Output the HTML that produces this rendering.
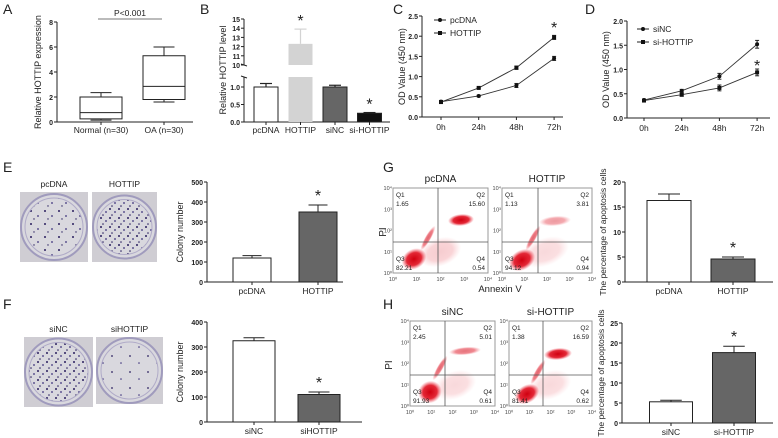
<!DOCTYPE html>
<html><head><meta charset="utf-8">
<style>
html,body{margin:0;padding:0;background:#fff;}
svg{display:block;font-family:"Liberation Sans",Arial,sans-serif;}
</style></head>
<body>
<svg id="fig" width="778" height="438" viewBox="0 0 778 438" xmlns="http://www.w3.org/2000/svg">
<defs>
  <pattern id="dotsA" width="14" height="13" patternUnits="userSpaceOnUse">
    <circle cx="3" cy="3" r="1" fill="#2a2060"/><circle cx="10" cy="8" r="0.9" fill="#3b2f7a"/><circle cx="6" cy="11" r="0.7" fill="#2a2060"/>
  </pattern>
  <pattern id="dotsB" width="9" height="9" patternUnits="userSpaceOnUse">
    <circle cx="2" cy="2" r="1" fill="#2a2060"/><circle cx="7" cy="5" r="0.9" fill="#3b2f7a"/><circle cx="4" cy="8" r="0.8" fill="#2a2060"/>
  </pattern>
  <pattern id="dotsC" width="18" height="16" patternUnits="userSpaceOnUse">
    <circle cx="4" cy="4" r="0.9" fill="#2a2060"/><circle cx="13" cy="11" r="0.8" fill="#3b2f7a"/>
  </pattern>
  <radialGradient id="blob"><stop offset="0" stop-color="#d00010"/><stop offset="0.6" stop-color="#e01020" stop-opacity="0.9"/><stop offset="1" stop-color="#f04050" stop-opacity="0"/></radialGradient>
</defs>
</svg>
<script>
// ---------- DATA ----------
const aCats = ["Normal (n=30)", "OA (n=30)"];
const aMin = [0.15, 1.6];
const aQ1 = [0.25, 1.8];
const aMed = [0.75, 2.85];
const aQ3 = [2.0, 5.3];
const aMax = [2.35, 6.0];
const aTicks = [0, 2, 4, 6, 8];
const bCats = ["pcDNA", "HOTTIP", "siNC", "si-HOTTIP"];
const bVals = [1.0, 12.3, 1.0, 0.25];
const bErrs = [0.1, 1.6, 0.05, 0.02];
const bLowTicks = [0.0, 0.5, 1.0];
const bHighTicks = [10, 11, 12, 13, 14, 15];
const tCats = ["0h", "24h", "48h", "72h"];
const cPcDNA = [0.38, 0.52, 0.78, 1.45];
const cPcDNAErr = [0.03, 0.02, 0.05, 0.05];
const cHOTTIP = [0.37, 0.72, 1.22, 1.97];
const cHOTTIPErr = [0.03, 0.02, 0.04, 0.05];
const cTicks = [0.0, 0.5, 1.0, 1.5, 2.0, 2.5];
const dSiNC = [0.37, 0.56, 0.86, 1.52];
const dSiNCErr = [0.02, 0.03, 0.06, 0.08];
const dSiH = [0.36, 0.48, 0.62, 0.94];
const dSiHErr = [0.02, 0.03, 0.06, 0.07];
const dTicks = [0.0, 0.5, 1.0, 1.5, 2.0];
const eCats = ["pcDNA", "HOTTIP"];
const eVals = [120, 350];
const eErrs = [12, 35];
const eTicks = [0, 100, 200, 300, 400, 500];
const fCats = ["siNC", "siHOTTIP"];
const fVals = [325, 110];
const fErrs = [12, 10];
const fTicks = [0, 100, 200, 300, 400];
const gCats = ["pcDNA", "HOTTIP"];
const gVals = [16.3, 4.6];
const gErrs = [1.3, 0.4];
const gTicks = [0, 5, 10, 15, 20];
const hCats = ["siNC", "si-HOTTIP"];
const hVals = [5.3, 17.6];
const hErrs = [0.4, 1.6];
const hTicks = [0, 5, 10, 15, 20, 25];

// ---------- HELPERS ----------
const NS = "http://www.w3.org/2000/svg";
const svg = document.getElementById("fig");
function mk(tag, attrs, parent) {
  const e = document.createElementNS(NS, tag);
  for (const k in attrs) e.setAttribute(k, attrs[k]);
  (parent || svg).appendChild(e);
  return e;
}
function txt(x, y, s, size, anchor, parent, extra) {
  const t = mk("text", Object.assign({x: x, y: y, "font-size": size, "text-anchor": anchor || "middle", fill: "#222"}, extra || {}), parent);
  t.textContent = s;
  return t;
}
function line(x1, y1, x2, y2, parent, w, c) {
  return mk("line", {x1: x1, y1: y1, x2: x2, y2: y2, stroke: c || "#222", "stroke-width": w || 1}, parent);
}
function group(parent) { return mk("g", {}, parent); }

function yAxis(g, ax, yOf, ticks, top, bottom, fmt) {
  const a = line(ax, top, ax, bottom, g);
  
  
  ticks.forEach(v => {
    const y = yOf(v);
    line(ax - 3, y, ax, y, g);
    const t = txt(ax - 4, y + 3, fmt ? fmt(v) : String(v), 7, "end", g, {"font-weight": "bold"});
    
    
  });
}
function yTitle(g, x, y, s, size) {
  const t = txt(x, y, s, size || 9, "middle", g, {transform: "rotate(-90 " + x + " " + y + ")"});
  
  
}
function panelLetter(x, y, s) {
  const t = txt(x, y, s, 14, "start", svg);
  
  
}
function star(g, x, y) {
  const t = txt(x, y, "*", 16, "middle", g);
  
  
}

function barChart(name, o) {
  const g = group();
  
  
  const yOf = v => o.y0 - v * o.ppu;
  yAxis(g, o.ax, yOf, o.ticks, yOf(o.ticks[o.ticks.length - 1]), o.y0);
  const xa = line(o.ax, o.y0, o.xEnd, o.y0, g);
  
  
  o.cats.forEach((c, i) => {
    const cx = o.first + i * o.spacing;
    line(cx, o.y0, cx, o.y0 + 3, g);
    const v = o.vals[i], e = o.errs[i];
    line(cx, yOf(v), cx, yOf(v + e), g);
    line(cx - o.bw / 4, yOf(v + e), cx + o.bw / 4, yOf(v + e), g);
    const r = mk("rect", {x: cx - o.bw / 2, y: yOf(v), width: o.bw, height: v * o.ppu, fill: o.colors[i], stroke: "#222", "stroke-width": 1}, g);
    
    
    const l = txt(cx, o.y0 + 12, c, 8.5, "middle", g);
    
    
    if (o.stars[i]) star(g, cx, yOf(v + e) - 4);
  });
  yTitle(g, o.titleX, (o.y0 + yOf(o.ticks[o.ticks.length - 1])) / 2, o.title, o.titleSize || 9);
}

// ---------- PANEL A ----------
panelLetter(3, 14, "A");
(function () {
  const g = group();
  
  
  const ax = 57, y0 = 122, ppu = 12.5;
  const yOf = v => y0 - v * ppu;
  yAxis(g, ax, yOf, aTicks, yOf(8), y0);
  line(ax, y0, 193, y0, g);
  const centers = [101, 164], bw = 42;
  aCats.forEach((c, i) => {
    const cx = centers[i];
    line(cx, y0, cx, y0 + 3, g);
    line(cx, yOf(aMax[i]), cx, yOf(aQ3[i]), g);
    line(cx, yOf(aMin[i]), cx, yOf(aQ1[i]), g);
    line(cx - bw / 4, yOf(aMax[i]), cx + bw / 4, yOf(aMax[i]), g);
    line(cx - bw / 4, yOf(aMin[i]), cx + bw / 4, yOf(aMin[i]), g);
    const b = mk("rect", {x: cx - bw / 2, y: yOf(aQ3[i]), width: bw, height: (aQ3[i] - aQ1[i]) * ppu, fill: "none", stroke: "#222"}, g);
    
    
    line(cx - bw / 2, yOf(aMed[i]), cx + bw / 2, yOf(aMed[i]), g);
    const l = txt(cx, 133, c, 8.5, "middle", g);
    
    
  });
  const pl = line(98, 19, 162, 19, g, 1, "#777");
  
  
  const pt = txt(130, 16, "P<0.001", 8.5, "middle", g);
  
  
  yTitle(g, 41, 72, "Relative HOTTIP expression", 9);
})();

// ---------- PANEL B ----------
panelLetter(200, 14, "B");
(function () {
  const g = group();
  
  
  const ax = 244, y0 = 122, ppuL = 35, lowTop = 77;
  const hiBase = 65, ppuH = 9.2;
  const yOf = v => v <= 1.3 ? y0 - v * ppuL : hiBase - (v - 10) * ppuH;
  line(ax, lowTop, ax, y0, g);
  line(ax, yOf(15), ax, hiBase, g);
  line(ax - 3, lowTop - 1, ax + 3, lowTop + 1, g);
  line(ax - 3, hiBase - 1, ax + 3, hiBase + 1, g);
  bLowTicks.forEach(v => { line(ax - 3, yOf(v), ax, yOf(v), g); txt(ax - 4, yOf(v) + 3, v.toFixed(1), 7, "end", g, {"font-weight": "bold"}); });
  bHighTicks.forEach(v => { line(ax - 3, yOf(v), ax, yOf(v), g); txt(ax - 4, yOf(v) + 3, String(v), 7, "end", g, {"font-weight": "bold"}); });
  line(ax, y0, 390, y0, g);
  const colors = ["#ffffff", "#d3d3d3", "#666666", "#111111"];
  const stars = [false, true, false, true];
  bCats.forEach((c, i) => {
    const cx = 266 + i * 34.5, bw = 24;
    line(cx, y0, cx, y0 + 3, g);
    const v = bVals[i], e = bErrs[i];
    let r;
    if (v > 1.3) {
      mk("rect", {x: cx - bw / 2, y: lowTop, width: bw, height: y0 - lowTop, fill: colors[i]}, g);
      r = mk("rect", {x: cx - bw / 2, y: yOf(v), width: bw, height: hiBase - yOf(v), fill: colors[i]}, g);
    } else {
      r = mk("rect", {x: cx - bw / 2, y: yOf(v), width: bw, height: v * ppuL, fill: colors[i], stroke: "#222"}, g);
    }
    
    
    const ec = i === 1 ? "#d3d3d3" : "#222";
    line(cx, yOf(v), cx, yOf(v + e), g, 1.2, ec);
    line(cx - 6, yOf(v + e), cx + 6, yOf(v + e), g, 1.2, ec);
    const l = txt(cx, 133, c, 8.5, "middle", g);
    
    
    if (stars[i]) star(g, cx, yOf(v + e) - 3);
  });
  yTitle(g, 226, 70, "Relative HOTTIP level", 9);
})();

// ---------- LINE CHARTS ----------
function lineChart(name, o) {
  const g = group();
  
  
  const yOf = v => o.y0 - v * o.ppu;
  const xOf = i => o.x0 + i * o.dx;
  yAxis(g, o.ax, yOf, o.ticks, yOf(o.ticks[o.ticks.length - 1]), o.y0, v => v.toFixed(1));
  line(o.ax, o.y0, o.xEnd, o.y0, g);
  tCats.forEach((c, i) => {
    line(xOf(i), o.y0, xOf(i), o.y0 + 3, g);
    const l = txt(xOf(i), o.y0 + 13, c, 8.5, "middle", g);
    
    
  });
  o.series.forEach((s, si) => {
    const p = mk("polyline", {points: s.vals.map((v, i) => xOf(i) + "," + yOf(v)).join(" "), fill: "none", stroke: "#333", "stroke-width": 0.9}, g);
    
    
    s.vals.forEach((v, i) => {
      const x = xOf(i), e = s.errs[i];
      line(x, yOf(v - e), x, yOf(v + e), g);
      line(x - 2, yOf(v + e), x + 2, yOf(v + e), g);
      line(x - 2, yOf(v - e), x + 2, yOf(v - e), g);
      let m;
      if (s.marker === "circle") m = mk("circle", {cx: x, cy: yOf(v), r: 2, fill: "#111"}, g);
      else m = mk("rect", {x: x - 2, y: yOf(v) - 2, width: 4, height: 4, fill: "#111"}, g);
      
      
    });
    const ly = o.legY + si * 13;
    line(o.legX, ly, o.legX + 12, ly, g);
    if (s.marker === "circle") mk("circle", {cx: o.legX + 6, cy: ly, r: 2, fill: "#111"}, g);
    else mk("rect", {x: o.legX + 4, y: ly - 2, width: 4, height: 4, fill: "#111"}, g);
    const lt = txt(o.legX + 16, ly + 3, s.name, 8.5, "start", g);
    
    
  });
  star(g, xOf(3), o.starY);
  yTitle(g, o.titleX, (o.y0 + yOf(o.ticks[o.ticks.length - 1])) / 2, "OD Value (450 nm)", 9);
}
panelLetter(393, 14, "C");
lineChart("line-chart-c", {ax: 422, y0: 117, ppu: 40.4, x0: 441, dx: 37.7, xEnd: 563, ticks: cTicks,
  series: [{name: "pcDNA", vals: cPcDNA, errs: cPcDNAErr, marker: "circle"}, {name: "HOTTIP", vals: cHOTTIP, errs: cHOTTIPErr, marker: "square"}],
  legX: 434, legY: 20, starY: 33, titleX: 405});
panelLetter(585, 14, "D");
lineChart("line-chart-d", {ax: 627, y0: 118, ppu: 48.5, x0: 644, dx: 37.7, xEnd: 770, ticks: dTicks,
  series: [{name: "siNC", vals: dSiNC, errs: dSiNCErr, marker: "circle"}, {name: "si-HOTTIP", vals: dSiH, errs: dSiHErr, marker: "square"}],
  legX: 637, legY: 29, starY: 71, titleX: 609});

// ---------- PLATES ----------
function plate(name, x, y, w, h, pat, label) {
  const g = group();
  
  
  mk("rect", {x: x, y: y, width: w, height: h, fill: "#cfcdd3"}, g);
  const cx = x + w / 2, cy = y + h / 2, r = Math.min(w, h) / 2 - 1;
  mk("circle", {cx: cx, cy: cy, r: r, fill: "#d9d8de", stroke: "#a09bbd", "stroke-width": 2}, g);
  mk("circle", {cx: cx, cy: cy, r: r - 4, fill: "url(#" + pat + ")", stroke: "#b0abc8", "stroke-width": 1}, g);
  const t = txt(cx, y - 5, label, 8.5, "middle", g);
  
  
}
panelLetter(3, 172, "E");
plate("plate-pcdna", 20, 192, 68, 70, "dotsA", "pcDNA");
plate("plate-hottip", 92, 192, 65, 70, "dotsB", "HOTTIP");
panelLetter(3, 309, "F");
plate("plate-sinc", 24, 337, 69, 70, "dotsB", "siNC");
plate("plate-sihottip", 96, 337, 67, 67, "dotsC", "siHOTTIP");

barChart("bar-chart-e", {ax: 207, y0: 282, ppu: 0.2, ticks: eTicks, xEnd: 343, first: 252, spacing: 66, bw: 38,
  cats: eCats, vals: eVals, errs: eErrs, colors: ["#fff", "#666"], stars: [false, true], title: "Colony number", titleX: 183});
barChart("bar-chart-f", {ax: 207, y0: 422, ppu: 0.25, ticks: fTicks, xEnd: 362, first: 254, spacing: 65, bw: 42,
  cats: fCats, vals: fVals, errs: fErrs, colors: ["#fff", "#666"], stars: [false, true], title: "Colony number", titleX: 183});

// ---------- FLOW PLOTS ----------
const logLabels = ["10\u2070", "10\u00b9", "10\u00b2", "10\u00b3", "10\u2074"];
function flow(name, x, y, w, h, qx, qy, title, q, blobs) {
  const g = group();
  
  
  mk("rect", {x: x, y: y, width: w, height: h, fill: "#fff", stroke: "#999", "stroke-width": 1}, g);
  blobs.forEach(b => mk("ellipse", {cx: b[0], cy: b[1], rx: b[2], ry: b[3], fill: "url(#blob)", opacity: b[4] || 1, transform: "rotate(" + (b[5] || 0) + " " + b[0] + " " + b[1] + ")"}, g));
  line(qx, y, qx, y + h, g, 0.8, "#555");
  line(x, qy, x + w, qy, g, 0.8, "#555");
  const tt = txt(x + w / 2, y - 6, title, 10, "middle", g);
  
  
  txt(x + 3, y + 9, "Q1", 6.5, "start", g); txt(x + 3, y + 18, q[0], 6.5, "start", g);
  txt(x + w - 3, y + 9, "Q2", 6.5, "end", g); txt(x + w - 3, y + 18, q[1], 6.5, "end", g);
  txt(x + 3, y + h - 12, "Q3", 6.5, "start", g); txt(x + 3, y + h - 3, q[2], 6.5, "start", g);
  txt(x + w - 3, y + h - 12, "Q4", 6.5, "end", g); txt(x + w - 3, y + h - 3, q[3], 6.5, "end", g);
  for (let i = 0; i < 5; i++) {
    txt(x + i * w / 4, y + h + 8, logLabels[i], 5.5, "middle", g, {fill: "#444"});
    txt(x - 1, y + h - i * h / 4 + 2, logLabels[i], 5.5, "end", g, {fill: "#444"});
  }
}
panelLetter(383, 172, "G");
flow("flow-pcdna", 393, 188, 95, 85, 438, 242, "pcDNA", ["1.65", "15.60", "82.21", "0.54"],
  [[414, 259, 13, 10, 1, -30], [461, 220, 13, 6, 1, -5], [428, 238, 14, 3, 0.6, -60], [440, 252, 22, 14, 0.2, -20]]);
flow("flow-hottip", 502, 188, 90, 85, 538, 242, "HOTTIP", ["1.13", "3.81", "94.12", "0.94"],
  [[522, 260, 14, 10, 1, -30], [555, 221, 16, 5, 0.4, -5], [533, 238, 14, 3, 0.6, -60], [545, 252, 25, 14, 0.15, -20]]);
const axT = txt(500, 292, "Annexin V", 9.5, "middle", svg);


const piG = txt(386, 232, "PI", 10, "middle", svg, {transform: "rotate(-90 386 232)"});



panelLetter(383, 309, "H");
flow("flow-sinc", 410, 321, 85, 85, 445, 375, "siNC", ["2.45", "5.01", "91.93", "0.61"],
  [[430, 392, 12, 11, 1, -30], [465, 351, 16, 4, 0.55, -5], [440, 368, 14, 3, 0.6, -60], [455, 385, 22, 14, 0.15, -20]]);
flow("flow-sihottip", 509, 321, 83, 85, 543, 375, "si-HOTTIP", ["1.38", "16.59", "81.41", "0.62"],
  [[527, 394, 13, 9, 1, -30], [558, 354, 14, 6, 1, -5], [538, 372, 14, 3, 0.6, -60], [550, 385, 22, 14, 0.15, -20]]);
const piH = txt(392, 365, "PI", 10, "middle", svg, {transform: "rotate(-90 392 365)"});



barChart("bar-chart-g", {ax: 625, y0: 282, ppu: 5, ticks: gTicks, xEnd: 773, first: 669, spacing: 64, bw: 44,
  cats: gCats, vals: gVals, errs: gErrs, colors: ["#fff", "#666"], stars: [false, true], title: "The percentage of apoptosis cells", titleX: 606, titleSize: 8.5});
barChart("bar-chart-h", {ax: 622, y0: 423, ppu: 4, ticks: hTicks, xEnd: 773, first: 671, spacing: 63, bw: 43,
  cats: hCats, vals: hVals, errs: hErrs, colors: ["#fff", "#666"], stars: [false, true], title: "The percentage of apoptosis cells", titleX: 604, titleSize: 8.5});
</script>
</body></html>
